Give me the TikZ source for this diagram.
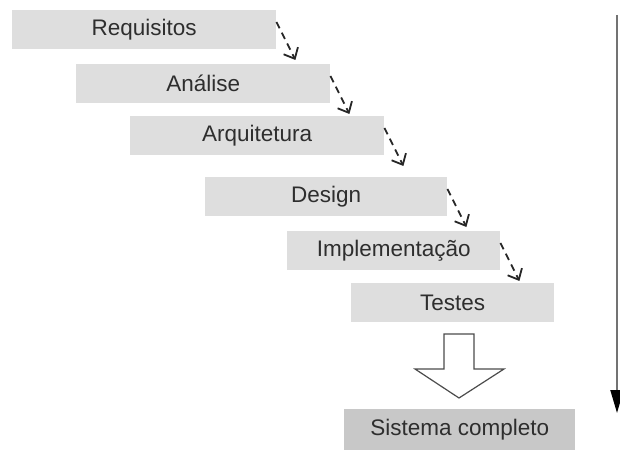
\documentclass[tikz,border=0pt]{standalone}
\usepackage{fontspec}
\setmainfont{Liberation Sans}
\usetikzlibrary{arrows.meta}
\definecolor{boxgray}{HTML}{DEDEDE}
\definecolor{sisgray}{HTML}{C8C8C8}
\definecolor{txtgray}{HTML}{2E2E2E}
\begin{document}
\begin{tikzpicture}[x=1pt,y=-1pt,
  stagebox/.style={draw=none,fill=boxgray,anchor=north west,inner sep=0pt,
    minimum height=39pt,text=txtgray,font=\fontsize{22.5}{25}\selectfont},
  dasharrow/.style={draw=black!85,line width=1.8pt,dash pattern=on 7pt off 5pt,
    -{Straight Barb[length=9pt,width=16pt,line width=1.8pt]}}]
\useasboundingbox (0,0) rectangle (620,449);
\node[stagebox,minimum width=264pt] (req) at (12,10) {Requisitos};
\node[stagebox,minimum width=254pt] (ana) at (76,64) {Análise};
\node[stagebox,minimum width=254pt] (arq) at (130,116) {Arquitetura};
\node[stagebox,minimum width=242pt] (des) at (205,177) {Design};
\node[stagebox,minimum width=213pt] (imp) at (287,231) {Implementação};
\node[stagebox,minimum width=203pt] (tes) at (351,283) {Testes};
\node[stagebox,minimum width=231pt,minimum height=41pt,fill=sisgray] (sis) at (344,409) {Sistema completo};
\foreach \n in {req,ana,arq,des,imp}{
  \draw[dasharrow] ([yshift=-12pt]\n.north east) -- ++(19,38);
}
\draw[draw=black!70,line width=1.2pt,fill=white,line join=miter]
  (444,334) -- (474,334) -- (474,369) -- (504,369) -- (459,398) -- (415,369) -- (444,369) -- cycle;
\coordinate (topR) at (617,15);
\coordinate (botR) at (617,413);
\draw[draw=black!55,line width=2pt,-{Triangle[length=23pt,width=13pt,color=black,fill=black]}] (topR) -- (botR);
\end{tikzpicture}
\end{document}
